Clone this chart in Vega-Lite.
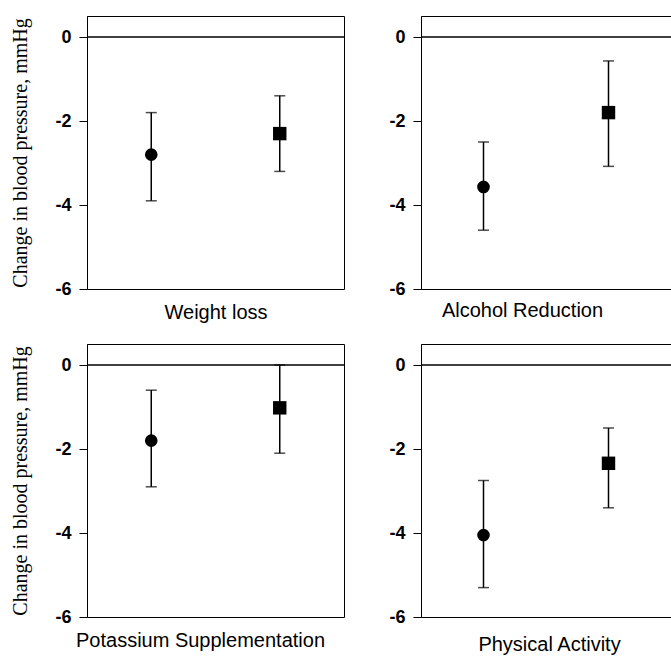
{
  "$schema": "https://vega.github.io/schema/vega-lite/v6.json",
  "padding": {"left": 10, "top": 15, "right": 0, "bottom": 0},
  "background": "white",
  "bounds": "flush",
  "spacing": {"row": 55, "column": 77},
  "columns": 2,
  "data": {
    "values": [
      {"panel": "Weight loss", "marker": "circle", "pos": 1, "mean": -2.8, "low": -3.9, "high": -1.8},
      {"panel": "Weight loss", "marker": "square", "pos": 3, "mean": -2.3, "low": -3.2, "high": -1.4},
      {"panel": "Alcohol Reduction", "marker": "circle", "pos": 1, "mean": -3.57, "low": -4.6, "high": -2.5},
      {"panel": "Alcohol Reduction", "marker": "square", "pos": 3, "mean": -1.8, "low": -3.08, "high": -0.57},
      {"panel": "Potassium Supplementation", "marker": "circle", "pos": 1, "mean": -1.8, "low": -2.9, "high": -0.6},
      {"panel": "Potassium Supplementation", "marker": "square", "pos": 3, "mean": -1.02, "low": -2.1, "high": 0.0},
      {"panel": "Physical Activity", "marker": "circle", "pos": 1, "mean": -4.05, "low": -5.3, "high": -2.75},
      {"panel": "Physical Activity", "marker": "square", "pos": 3, "mean": -2.34, "low": -3.4, "high": -1.5}
    ]
  },
  "config": {
    "view": {"stroke": "black", "strokeWidth": 1},
    "axisY": {
      "labelFont": "Liberation Sans", "labelFontWeight": "bold", "labelFontSize": 18, "labelColor": "black",
      "titleFont": "Liberation Serif", "titleFontWeight": "normal", "titleFontSize": 20, "titleColor": "black",
      "tickSize": 8, "tickColor": "black", "labelPadding": 8, "titlePadding": 24,
      "domainColor": "black", "grid": false
    },
    "axisX": {
      "labels": false, "ticks": false, "domain": false, "grid": false,
      "titleFont": "Liberation Sans", "titleFontWeight": "normal", "titleFontSize": 20, "titleColor": "black",
      "titlePadding": 13
    }
  },
  "concat": [
    {
      "width": 257, "height": 273,
      "transform": [{"filter": "datum.panel == 'Weight loss'"}],
      "layer": [
        {"mark": {"type": "rule", "color": "black", "strokeWidth": 1}, "encoding": {"y": {"datum": 0, "type": "quantitative", "scale": {"domain": [-6, 0.5], "nice": false}, "axis": {"title": "Change in blood pressure, mmHg", "values": [0, -2, -4, -6], "labelExpr": "datum.value == 0 ? '0' : '-' + abs(datum.value)", "labelFontWeight": "bold", "labelFont": "Liberation Sans", "labelFontSize": 18}}}},
        {"mark": {"type": "rule", "color": "black", "strokeWidth": 1.5}, "encoding": {"x": {"field": "pos", "type": "quantitative", "scale": {"domain": [0, 4]}, "axis": {"title": "Weight loss"}}, "y": {"field": "low", "type": "quantitative"}, "y2": {"field": "high"}}},
        {"mark": {"type": "tick", "orient": "horizontal", "size": 11, "thickness": 1.5, "color": "black"}, "encoding": {"x": {"field": "pos", "type": "quantitative"}, "y": {"field": "low", "type": "quantitative"}}},
        {"mark": {"type": "tick", "orient": "horizontal", "size": 11, "thickness": 1.5, "color": "black"}, "encoding": {"x": {"field": "pos", "type": "quantitative"}, "y": {"field": "high", "type": "quantitative"}}},
        {"mark": {"type": "point", "filled": true, "opacity": 1, "color": "black"}, "encoding": {"x": {"field": "pos", "type": "quantitative"}, "y": {"field": "mean", "type": "quantitative"}, "shape": {"field": "marker", "type": "nominal", "scale": {"domain": ["circle", "square"], "range": ["circle", "square"]}, "legend": null}, "size": {"field": "marker", "type": "nominal", "scale": {"domain": ["circle", "square"], "range": [160, 180]}, "legend": null}}}
      ]
    },
    {
      "width": 250, "height": 273,
      "transform": [{"filter": "datum.panel == 'Alcohol Reduction'"}],
      "layer": [
        {"mark": {"type": "rule", "color": "black", "strokeWidth": 1}, "encoding": {"y": {"datum": 0, "type": "quantitative", "scale": {"domain": [-6, 0.5], "nice": false}, "axis": {"title": null, "values": [0, -2, -4, -6], "labelExpr": "datum.value == 0 ? '0' : '-' + abs(datum.value)", "labelFontWeight": "bold", "labelFont": "Liberation Sans", "labelFontSize": 18}}}},
        {"mark": {"type": "rule", "color": "black", "strokeWidth": 1.5}, "encoding": {"x": {"field": "pos", "type": "quantitative", "scale": {"domain": [0, 3.9]}, "axis": {"title": "Alcohol Reduction", "titleX": 101, "titlePadding": 11}}, "y": {"field": "low", "type": "quantitative"}, "y2": {"field": "high"}}},
        {"mark": {"type": "tick", "orient": "horizontal", "size": 11, "thickness": 1.5, "color": "black"}, "encoding": {"x": {"field": "pos", "type": "quantitative"}, "y": {"field": "low", "type": "quantitative"}}},
        {"mark": {"type": "tick", "orient": "horizontal", "size": 11, "thickness": 1.5, "color": "black"}, "encoding": {"x": {"field": "pos", "type": "quantitative"}, "y": {"field": "high", "type": "quantitative"}}},
        {"mark": {"type": "point", "filled": true, "opacity": 1, "color": "black"}, "encoding": {"x": {"field": "pos", "type": "quantitative"}, "y": {"field": "mean", "type": "quantitative"}, "shape": {"field": "marker", "type": "nominal", "scale": {"domain": ["circle", "square"], "range": ["circle", "square"]}, "legend": null}, "size": {"field": "marker", "type": "nominal", "scale": {"domain": ["circle", "square"], "range": [160, 180]}, "legend": null}}}
      ]
    },
    {
      "width": 257, "height": 273,
      "transform": [{"filter": "datum.panel == 'Potassium Supplementation'"}],
      "layer": [
        {"mark": {"type": "rule", "color": "black", "strokeWidth": 1}, "encoding": {"y": {"datum": 0, "type": "quantitative", "scale": {"domain": [-6, 0.5], "nice": false}, "axis": {"title": "Change in blood pressure, mmHg", "values": [0, -2, -4, -6], "labelExpr": "datum.value == 0 ? '0' : '-' + abs(datum.value)", "labelFontWeight": "bold", "labelFont": "Liberation Sans", "labelFontSize": 18}}}},
        {"mark": {"type": "rule", "color": "black", "strokeWidth": 1.5}, "encoding": {"x": {"field": "pos", "type": "quantitative", "scale": {"domain": [0, 4]}, "axis": {"title": "Potassium Supplementation", "titleX": 113}}, "y": {"field": "low", "type": "quantitative"}, "y2": {"field": "high"}}},
        {"mark": {"type": "tick", "orient": "horizontal", "size": 11, "thickness": 1.5, "color": "black"}, "encoding": {"x": {"field": "pos", "type": "quantitative"}, "y": {"field": "low", "type": "quantitative"}}},
        {"mark": {"type": "tick", "orient": "horizontal", "size": 11, "thickness": 1.5, "color": "black"}, "encoding": {"x": {"field": "pos", "type": "quantitative"}, "y": {"field": "high", "type": "quantitative"}}},
        {"mark": {"type": "point", "filled": true, "opacity": 1, "color": "black"}, "encoding": {"x": {"field": "pos", "type": "quantitative"}, "y": {"field": "mean", "type": "quantitative"}, "shape": {"field": "marker", "type": "nominal", "scale": {"domain": ["circle", "square"], "range": ["circle", "square"]}, "legend": null}, "size": {"field": "marker", "type": "nominal", "scale": {"domain": ["circle", "square"], "range": [160, 180]}, "legend": null}}}
      ]
    },
    {
      "width": 250, "height": 273,
      "transform": [{"filter": "datum.panel == 'Physical Activity'"}],
      "layer": [
        {"mark": {"type": "rule", "color": "black", "strokeWidth": 1}, "encoding": {"y": {"datum": 0, "type": "quantitative", "scale": {"domain": [-6, 0.5], "nice": false}, "axis": {"title": null, "values": [0, -2, -4, -6], "labelExpr": "datum.value == 0 ? '0' : '-' + abs(datum.value)", "labelFontWeight": "bold", "labelFont": "Liberation Sans", "labelFontSize": 18}}}},
        {"mark": {"type": "rule", "color": "black", "strokeWidth": 1.5}, "encoding": {"x": {"field": "pos", "type": "quantitative", "scale": {"domain": [0, 3.9]}, "axis": {"title": "Physical Activity", "titleX": 128, "titlePadding": 17}}, "y": {"field": "low", "type": "quantitative"}, "y2": {"field": "high"}}},
        {"mark": {"type": "tick", "orient": "horizontal", "size": 11, "thickness": 1.5, "color": "black"}, "encoding": {"x": {"field": "pos", "type": "quantitative"}, "y": {"field": "low", "type": "quantitative"}}},
        {"mark": {"type": "tick", "orient": "horizontal", "size": 11, "thickness": 1.5, "color": "black"}, "encoding": {"x": {"field": "pos", "type": "quantitative"}, "y": {"field": "high", "type": "quantitative"}}},
        {"mark": {"type": "point", "filled": true, "opacity": 1, "color": "black"}, "encoding": {"x": {"field": "pos", "type": "quantitative"}, "y": {"field": "mean", "type": "quantitative"}, "shape": {"field": "marker", "type": "nominal", "scale": {"domain": ["circle", "square"], "range": ["circle", "square"]}, "legend": null}, "size": {"field": "marker", "type": "nominal", "scale": {"domain": ["circle", "square"], "range": [160, 180]}, "legend": null}}}
      ]
    }
  ]
}
